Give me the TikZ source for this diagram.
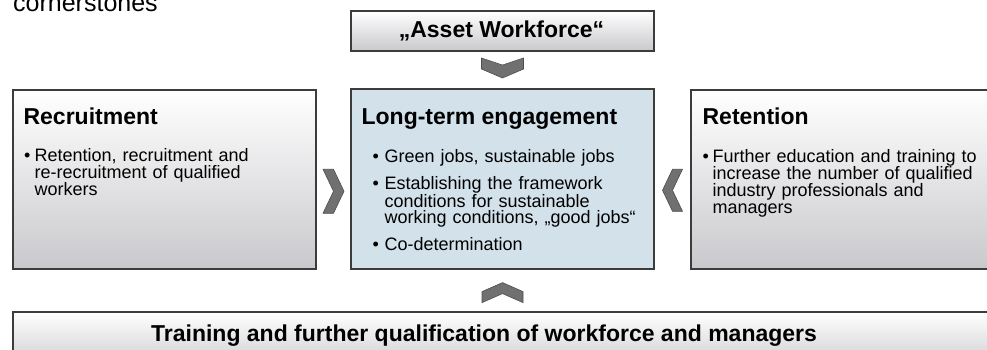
\documentclass[tikz,border=0pt]{standalone}
\usepackage{fontspec}
\setmainfont{Liberation Sans}
\usetikzlibrary{positioning,calc}
\definecolor{frame}{HTML}{3C3C3C}
\definecolor{boxgrey}{HTML}{C9C9CD}
\definecolor{engagefill}{RGB}{210,225,234}
\definecolor{chevfill}{HTML}{707070}
% bullet paragraph with hanging indent
\newcommand{\bitem}[2]{\par\noindent\hangindent=#1\hangafter=1\makebox[#1][l]{\textbullet}#2\par}
\newcommand{\firststrut}{\rule{0pt}{14pt}}
\tikzset{
    pillar/.style={
        rectangle,
        draw=frame,
        line width=1.2pt,
        top color=white,
        bottom color=boxgrey,
        minimum width=303pt,
        minimum height=179pt,
        inner sep=0pt,
    },
    core/.style={
        rectangle,
        draw=frame,
        line width=1.2pt,
        fill=engagefill,
        minimum width=303pt,
        minimum height=180pt,
        inner sep=0pt,
    },
    heading/.style={
        anchor=base west,
        inner sep=0pt,
        font=\fontsize{23}{27}\selectfont\bfseries,
    },
    body/.style={
        anchor=north west,
        inner sep=0pt,
        text width=#1,
    },
    chevron/.style={
        fill=chevfill,
        draw=chevfill!70!black,
        line width=0.6pt,
    },
}

\begin{document}
\begin{tikzpicture}[x=1pt,y=-1pt]
    \clip (0,0) rectangle (987,349);
    \node[anchor=base west,inner sep=0pt,font=\fontsize{25}{30}\selectfont] (caption) at (13,11.5) {cornerstones};

    % boxes
    \node[pillar,minimum height=40pt] (asset) at (502.5,31) {};
    \node[core] (engage) at (502.5,179) {};
    \node[pillar] (recruit) at (164.5,179.5) {};
    \node[pillar] (retain) at (842.5,179.5) {};
    \node[pillar,minimum width=1000pt,minimum height=60pt] (training) at (513,342) {};

    % headings
    \node[heading,anchor=base] (assetT) at ([shift={(-1,27)}]asset.north) {„Asset Workforce“};
    \node[heading] (recruitT) at ([shift={(11,35)}]recruit.north west) {Recruitment};
    \node[heading] (engageT) at ([shift={(11,36)}]engage.north west) {Long-term engagement};
    \node[heading] (retainT) at ([shift={(12,35)}]retain.north west) {Retention};
    \node[heading,anchor=base] (trainingT) at (484,341) {Training and further qualification of workforce and managers};

    % bullet lists
    \node[body=280pt,font=\fontsize{18}{17}\selectfont] (recruitB) at ([shift={(11.5,55)}]recruit.north west) {%
        \bitem{10.5pt}{\firststrut Retention, recruitment and\newline re-recruitment of qualified\newline workers}};
    \node[body=275pt,font=\fontsize{18}{16.2}\selectfont] (engageB) at ([shift={(22,58)}]engage.north west) {%
        \bitem{12pt}{\firststrut Green jobs, sustainable jobs}
        \vspace{9.3pt}
        \bitem{12pt}{Establishing the framework\newline conditions for sustainable\newline working conditions, „good jobs“}
        \vspace{9.3pt}
        \bitem{12pt}{Co-determination}};
    \node[body=280pt,font=\fontsize{18}{17}\selectfont] (retainB) at ([shift={(12,56)}]retain.north west) {%
        \bitem{10pt}{\firststrut Further education and training to\newline increase the number of qualified\newline industry professionals and\newline managers}};

    % chevrons between the boxes
    \coordinate (chevTop) at ($(asset.south)!.5!(engage.north)+(0,-2)$);
    \coordinate (chevLeft) at ($(recruit.east)!.5!(engage.west)+(0,12)$);
    \coordinate (chevRight) at ($(engage.east)!.5!(retain.west)+(0,11)$);
    \coordinate (chevBottom) at ($(engage.south)+(0,23)$);
    \draw[chevron,shift={(chevTop)}] (-21,-10) -- (0,-3) -- (21,-10) -- (21,1) -- (0,10) -- (-21,1) -- cycle;
    \draw[chevron,shift={(chevLeft)}] (-10.5,-22) -- (0,-22) -- (10.5,0) -- (0,22) -- (-10.5,22) -- (0,0) -- cycle;
    \draw[chevron,shift={(chevRight)}] (10,-21) -- (0,-21) -- (-10,0) -- (0,21) -- (10,21) -- (0,0) -- cycle;
    \draw[chevron,shift={(chevBottom)}] (-20.5,-1) -- (0,-10) -- (20.5,-1) -- (20.5,10) -- (0,1) -- (-20.5,10) -- cycle;
\end{tikzpicture}
\end{document}
